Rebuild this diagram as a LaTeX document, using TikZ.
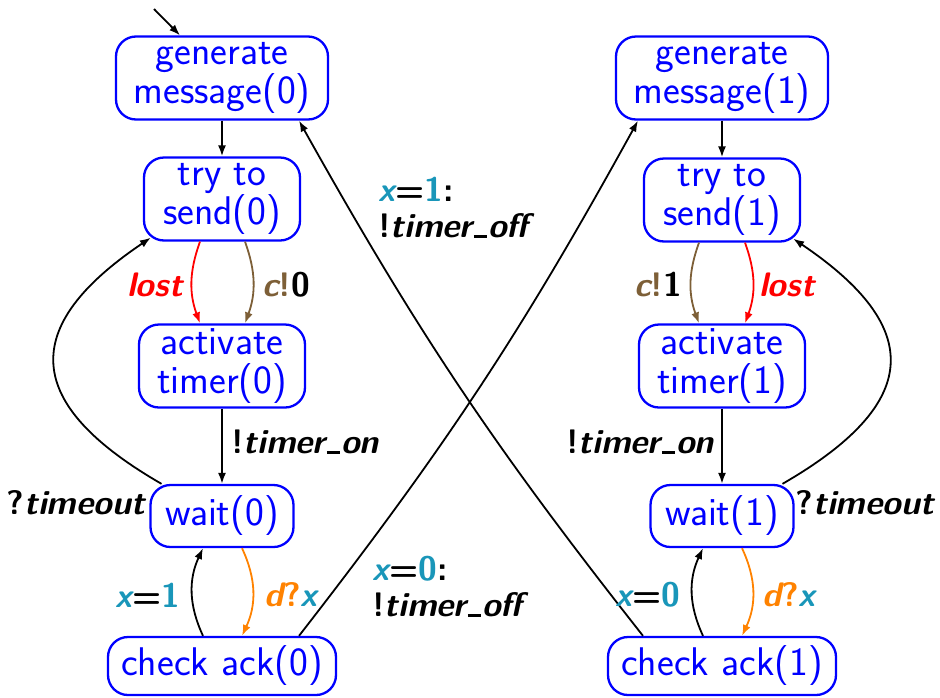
\documentclass[tikz,border=0pt]{standalone}
\usepackage{fontspec}
\usetikzlibrary{arrows.meta}
\definecolor{stblue}{RGB}{0,0,255}
\definecolor{lblred}{RGB}{255,0,0}
\definecolor{lblbrown}{RGB}{125,95,55}
\definecolor{lblteal}{RGB}{25,150,185}
\definecolor{lblorange}{RGB}{255,130,0}
\newcommand{\usc}{\kern0.04em\rule[-0.01em]{0.38em}{0.09em}\kern0.04em}
\tikzset{
 state/.style={draw=stblue, text=stblue, line width=2.3pt, rounded corners=20pt,
   font=\sffamily\fontsize{40}{39}\selectfont, align=center, inner xsep=4pt, inner ysep=2pt},
 one/.style={state, minimum height=62pt},
 two/.style={state, minimum height=83pt},
 arr/.style={line width=1.8pt, -{Latex[length=11pt,width=8pt]}},
 lbl/.style={font=\sffamily\bfseries\fontsize{34}{36}\selectfont, inner sep=0pt},
}
\begin{document}
\begin{tikzpicture}[x=1pt,y=1pt]
\useasboundingbox (0,0) rectangle (940,-697);
% left column
\node[two, minimum width=212pt] (gen0) at (222,-78) {generate\\message(0)};
\node[two, minimum width=156pt] (try0) at (222,-199) {try to\\send(0)};
\node[two, minimum width=166pt] (act0) at (222,-366) {activate\\timer(0)};
\node[one, minimum width=143pt] (wait0) at (222,-516) {wait(0)};
\node[one, minimum width=228pt, minimum height=58pt] (chk0) at (222,-666) {check ack(0)};
% right column
\node[two, minimum width=212pt] (gen1) at (722,-78) {generate\\message(1)};
\node[two, minimum width=156pt] (try1) at (722,-200) {try to\\send(1)};
\node[two, minimum width=166pt] (act1) at (722,-366) {activate\\timer(1)};
\node[one, minimum width=143pt] (wait1) at (722,-516) {wait(1)};
\node[one, minimum width=228pt, minimum height=58pt] (chk1) at (722,-666) {check ack(1)};
\coordinate (init) at (154,-9);
% edges left
\draw[arr] (init) -- ([xshift=-42pt]gen0.north);
\draw[arr] (gen0) -- (try0);
\draw[arr, lblred] ([xshift=-22pt]try0.south) to[bend right=20] ([xshift=-22pt]act0.north);
\draw[arr, lblbrown] ([xshift=23pt]try0.south) to[bend left=20] ([xshift=23pt]act0.north);
\draw[arr] (act0) -- (wait0);
\draw[arr, lblorange] ([xshift=20pt]wait0.south) to[bend left=25] ([xshift=20pt]chk0.north);
\draw[arr] ([xshift=-19pt]chk0.north) to[bend left=25] ([xshift=-19pt]wait0.south);
\draw[arr] (wait0.152) to[out=150,in=214,distance=160pt] ([shift={(8pt,4pt)}]try0.south west);
% edges right
\draw[arr] (gen1) -- (try1);
\draw[arr, lblbrown] ([xshift=-23pt]try1.south) to[bend right=20] ([xshift=-23pt]act1.north);
\draw[arr, lblred] ([xshift=23pt]try1.south) to[bend left=20] ([xshift=23pt]act1.north);
\draw[arr] (act1) -- (wait1);
\draw[arr, lblorange] ([xshift=20pt]wait1.south) to[bend left=25] ([xshift=20pt]chk1.north);
\draw[arr] ([xshift=-19pt]chk1.north) to[bend left=25] ([xshift=-19pt]wait1.south);
\draw[arr] (wait1.28) to[out=30,in=-34,distance=160pt] ([shift={(-8pt,4pt)}]try1.south east);
% cross edges
\draw[arr] ([xshift=77pt]chk0.north) to[bend right=4.5] ([xshift=-84pt]gen1.south);
\draw[arr] ([xshift=-79pt]chk1.north) to[bend left=4.5] ([xshift=77pt]gen0.south);
% labels left
\node[lbl, text=lblred] (lostL) at (155,-285) {\itshape lost};
\node[lbl] (cL) at (286,-285) {\textcolor{lblbrown}{{\itshape c}!}0};
\node[lbl] (onL) at (305,-442) {!{\itshape timer\usc on}};
\node[lbl] (toL) at (76,-503) {?{\itshape timeout}};
\node[lbl] (xL) at (148,-595) {\textcolor{lblteal}{\itshape x}=\textcolor{lblteal}{1}};
\node[lbl] (dL) at (291,-595) {\textcolor{lblorange}{{\itshape d}?}\textcolor{lblteal}{\itshape x}};
\node[lbl, align=left, anchor=west] (offB) at (372,-587) {\textcolor{lblteal}{\itshape x}=\textcolor{lblteal}{0}:\\!{\itshape timer\usc off}};
\node[lbl, align=left, anchor=west] (offT) at (378,-208) {\textcolor{lblteal}{\itshape x}=\textcolor{lblteal}{1}:\\!{\itshape timer\usc off}};
% labels right
\node[lbl] (cR) at (658,-285) {\textcolor{lblbrown}{{\itshape c}!}1};
\node[lbl, text=lblred] (lostR) at (787,-285) {\itshape lost};
\node[lbl] (onR) at (640,-442) {!{\itshape timer\usc on}};
\node[lbl] (toR) at (865,-503) {?{\itshape timeout}};
\node[lbl] (xR) at (648,-595) {\textcolor{lblteal}{\itshape x}=\textcolor{lblteal}{0}};
\node[lbl] (dR) at (789,-595) {\textcolor{lblorange}{{\itshape d}?}\textcolor{lblteal}{\itshape x}};
\end{tikzpicture}
\end{document}
